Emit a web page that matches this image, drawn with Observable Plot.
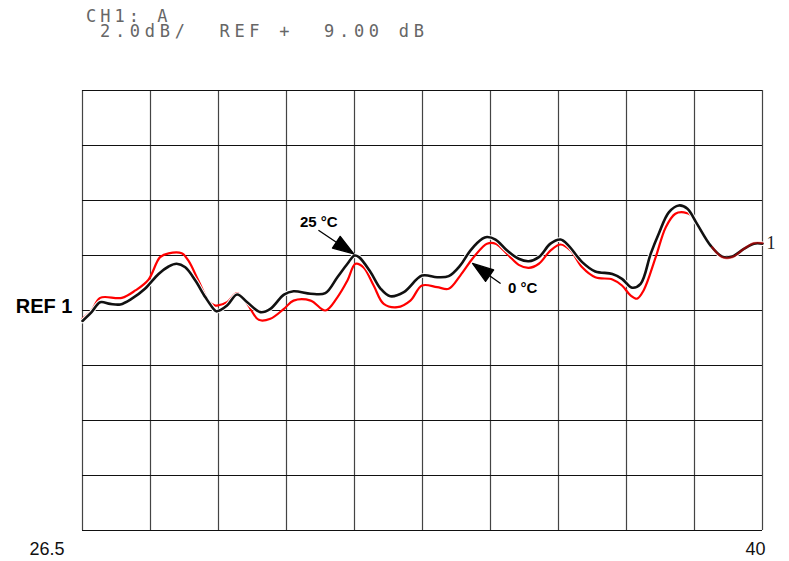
<!DOCTYPE html>
<html>
<head>
<meta charset="utf-8">
<script src="https://cdn.jsdelivr.net/npm/d3@7"></script>
<script src="https://cdn.jsdelivr.net/npm/@observablehq/plot@0.6"></script>
<style>
  html, body { margin: 0; padding: 0; background: #fff; }
  #wrap { position: relative; width: 789px; height: 561px; }
  .hdr { position: absolute; font-family: "DejaVu Sans Mono", monospace; font-size: 17px;
         letter-spacing: 4.7px; color: #666; white-space: pre; line-height: 13px; }
</style>
</head>
<body>
<div id="wrap">
  <div class="hdr" id="h1" style="left:86px; top:10px; letter-spacing:4.0px;"></div>
  <div class="hdr" id="h2" style="left:100px; top:25px;"></div>
</div>
<script>
// Header texts
const headerLines = ["CH1: A", "2.0dB/  REF +  9.00 dB"];

// Axis: 26.5 – 40 GHz, 2 dB/div, reference level +9 dB
const xTickLabels = [26.5, 40];
const xDivisions = 10;
const yDivisions = 8;
const refLevel = 9;
const dbPerDiv = 2;

// 25 °C trace (black)
const freq25 = [26.5, 26.68, 26.85, 27.05, 27.25, 27.48, 27.74, 28.01, 28.21, 28.37, 28.54, 28.74, 28.94, 29.13, 29.17,
  29.37, 29.57, 29.77, 30.03, 30.23, 30.50, 30.69, 31.03, 31.32, 31.56, 31.76, 31.90, 31.99, 32.22, 32.42,
  32.61, 32.88, 33.24, 33.54, 33.77, 34.00, 34.20, 34.44, 34.53, 34.70, 34.93, 35.16, 35.36, 35.56, 35.79,
  35.99, 36.15, 36.42, 36.68, 37.02, 37.21, 37.41, 37.58, 37.78, 37.94, 38.14, 38.34, 38.51, 38.70, 38.97,
  39.20, 39.40, 39.63, 39.83, 40.0];
const db25 = [8.62, 8.94, 9.30, 9.24, 9.22, 9.43, 9.79, 10.33, 10.60, 10.70, 10.57, 10.09, 9.48, 9.00, 8.97,
  9.18, 9.58, 9.30, 8.94, 9.06, 9.58, 9.70, 9.61, 9.63, 10.21, 10.70, 11.00, 10.94, 10.39, 9.79,
  9.52, 9.67, 10.27, 10.21, 10.25, 10.64, 11.18, 11.61, 11.67, 11.58, 11.18, 10.88, 10.79, 10.94, 11.43,
  11.58, 11.36, 10.76, 10.42, 10.33, 10.15, 9.83, 9.97, 11.06, 11.79, 12.57, 12.82, 12.70, 12.15, 11.36,
  10.96, 10.96, 11.24, 11.43, 11.43];

// 0 °C trace (red)
const freq0 = [26.5, 26.68, 26.85, 27.28, 27.55, 27.81, 28.04, 28.21, 28.47, 28.60, 28.80, 29.00, 29.13, 29.17,
  29.37, 29.57, 29.77, 30.00, 30.23, 30.50, 30.69, 31.03, 31.32, 31.56, 31.76, 31.92, 32.08, 32.28, 32.48,
  32.75, 33.01, 33.24, 33.54, 33.77, 34.00, 34.24, 34.44, 34.53, 34.70, 34.96, 35.16, 35.36, 35.56, 35.79,
  35.99, 36.19, 36.42, 36.68, 37.02, 37.21, 37.38, 37.51, 37.64, 37.88, 38.08, 38.27, 38.44, 38.60, 38.77,
  39.00, 39.20, 39.40, 39.63, 39.83, 40.0];
const db0 = [8.70, 9.00, 9.46, 9.46, 9.73, 10.12, 10.94, 11.08, 11.08, 10.82, 10.09, 9.36, 9.18, 9.18,
  9.30, 9.63, 9.24, 8.66, 8.70, 9.06, 9.36, 9.36, 9.00, 9.48, 10.09, 10.70, 10.57, 9.91, 9.24,
  9.12, 9.36, 9.91, 9.85, 9.79, 10.27, 10.88, 11.30, 11.43, 11.43, 11.00, 10.66, 10.55, 10.70, 11.18,
  11.40, 11.18, 10.57, 10.21, 10.13, 9.91, 9.55, 9.43, 9.73, 10.94, 12.03, 12.52, 12.57, 12.45, 11.97,
  11.30, 10.94, 10.94, 11.24, 11.45, 11.45];

// Annotations
const annoText = ["25 °C", "0 °C"];
const annoX = [31.19, 35.24];
const annoY = [12.2, 9.8];
const arrowTipX = [31.886, 34.243];
const arrowTipY = [11.06, 10.71];

document.getElementById("h1").textContent = headerLines[0];
document.getElementById("h2").textContent = headerLines[1];

const xMin = xTickLabels[0], xMax = xTickLabels[1];
const yMin = refLevel - dbPerDiv * 4, yMax = refLevel + dbPerDiv * 4;
const xGrid = d3.range(xDivisions + 1).map(i => xMin + i * (xMax - xMin) / xDivisions);
const yGrid = d3.range(yDivisions + 1).map(i => yMin + i * dbPerDiv);

const t25 = freq25.map((f, i) => ({f, db: db25[i]}));
const t0 = freq0.map((f, i) => ({f, db: db0[i]}));
const annos = annoText.map((text, i) => ({text, x: annoX[i], y: annoY[i]}));

const arrowShape = {
  draw(ctx, l) {
    const h = 21, w = 7;
    ctx.moveTo(0, 0);
    ctx.lineTo(0, -l + h);
    ctx.moveTo(0, -l);
    ctx.lineTo(-w, -l + h);
    ctx.lineTo(w, -l + h);
    ctx.closePath();
  }
};

const chart = Plot.plot({
  width: 789,
  height: 561,
  marginLeft: 82,
  marginRight: 27,
  marginTop: 90,
  marginBottom: 31,
  style: {fontFamily: "'Liberation Sans', Arial, sans-serif", background: "transparent", overflow: "visible"},
  x: {domain: [xMin, xMax], axis: null},
  y: {domain: [yMin, yMax], axis: null},
  marks: [
    Plot.ruleX(xGrid, {stroke: "#444", strokeWidth: 1.2}),
    Plot.ruleY(yGrid, {stroke: "#111", strokeWidth: 1.2}),
    Plot.line(t0, {x: "f", y: "db", stroke: "#ff0000", strokeWidth: 2.2, curve: "catmull-rom"}),
    Plot.line(t25, {x: "f", y: "db", stroke: "white", strokeWidth: 4.6, curve: "catmull-rom"}),
    Plot.line(t25, {x: "f", y: "db", stroke: "#111", strokeWidth: 2.6, curve: "catmull-rom"}),
    Plot.line(t0.slice(-6), {x: "f", y: "db", stroke: "#ff0000", strokeWidth: 2.2, curve: "catmull-rom", strokeOpacity: 0.5}),
    Plot.text([xTickLabels[0]], {x: d => d, y: yMin, text: d => String(d), textAnchor: "end", dx: -18, dy: 19,
      fontSize: 18, fill: "#111"}),
    Plot.text([xTickLabels[1]], {x: d => d, y: yMin, text: d => String(d), textAnchor: "end", dx: 3, dy: 19,
      fontSize: 18, fill: "#111"}),
    Plot.text([refLevel], {x: xMin, y: d => d, text: () => "REF 1", textAnchor: "end", dx: -10, dy: -4,
      fontSize: 20, fontWeight: "bold", fill: "#000"}),
    Plot.text([db25[db25.length - 1]], {x: xMax, y: d => d, text: () => "1", textAnchor: "start", dx: 4,
      fontSize: 18, fontFamily: "'Liberation Serif', serif", fill: "#222"}),
    Plot.text(annos, {x: "x", y: "y", text: "text", fontSize: 15, fontWeight: "bold", fill: "#000"}),
    Plot.vector([0], {x: arrowTipX[0], y: arrowTipY[0], anchor: "end", length: 42, rotate: 123.7,
      shape: arrowShape, stroke: "#000", fill: "#000", strokeWidth: 1.3}),
    Plot.vector([1], {x: arrowTipX[1], y: arrowTipY[1], anchor: "end", length: 34, rotate: 305.5,
      shape: arrowShape, stroke: "#000", fill: "#000", strokeWidth: 1.3})
  ]
});
chart.style.position = "absolute";
chart.style.left = "0";
chart.style.top = "0";
document.getElementById("wrap").prepend(chart);
</script>
</body>
</html>
